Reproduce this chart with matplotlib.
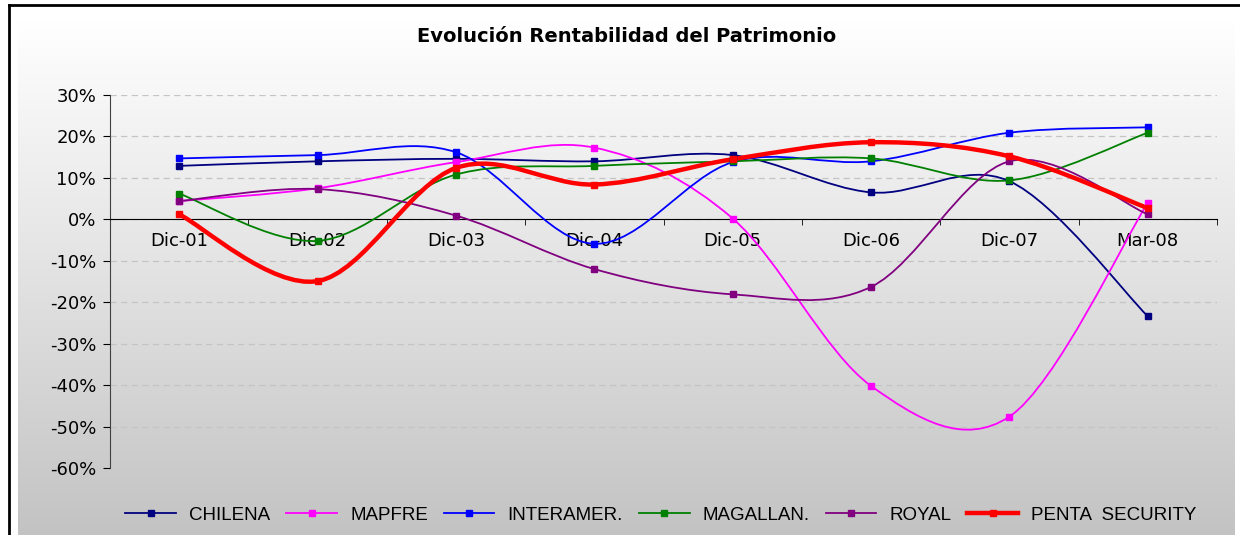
import numpy as np
import matplotlib
matplotlib.use("Agg")
from matplotlib import pyplot as plt
from matplotlib.path import Path
from matplotlib.patches import PathPatch
from matplotlib.lines import Line2D
from matplotlib.ticker import FixedLocator, PercentFormatter

# datos (rentabilidad del patrimonio, %)
categorias = ["Dic-01", "Dic-02", "Dic-03", "Dic-04", "Dic-05", "Dic-06", "Dic-07", "Mar-08"]
chilena = [12.9, 14.0, 14.6, 14.0, 15.5, 6.5, 9.2, -23.4]
mapfre = [4.4, 7.5, 13.8, 17.3, 0.2, -40.2, -47.6, 4.0]
interamer = [14.7, 15.5, 16.2, -5.9, 13.8, 14.0, 20.9, 22.2]
magallan = [6.2, -5.2, 10.8, 12.9, 14.0, 14.7, 9.4, 20.9]
royal = [4.4, 7.3, 0.9, -12.0, -18.1, -16.3, 14.0, 1.2]
penta = [1.2, -14.9, 12.4, 8.4, 14.5, 18.6, 15.2, 2.7]

series = [
    ("CHILENA", chilena, "#000080", 1.3),
    ("MAPFRE", mapfre, "#ff00ff", 1.3),
    ("INTERAMER.", interamer, "#0000ff", 1.3),
    ("MAGALLAN.", magallan, "#008000", 1.3),
    ("ROYAL", royal, "#800080", 1.3),
    ("PENTA  SECURITY", penta, "#ff0000", 3.2),
]

plt.rcParams['font.family'] = ['DejaVu Sans']
plt.rcParams['axes.unicode_minus'] = False


def smooth_path(x, y):
    # curva suavizada tipo Excel (Bezier con puntos de control Catmull-Rom)
    pts = np.column_stack([np.asarray(x, float), np.asarray(y, float)])
    verts = [pts[0]]
    codes = [Path.MOVETO]
    n = len(pts)
    for i in range(n - 1):
        p0 = pts[i - 1] if i > 0 else pts[i]
        p1 = pts[i]
        p2 = pts[i + 1]
        p3 = pts[i + 2] if i + 2 < n else pts[i + 1]
        verts += [p1 + (p2 - p0) / 6.0, p2 - (p3 - p1) / 6.0, p2]
        codes += [Path.CURVE4] * 3
    return Path(verts, codes)


fig = plt.figure(figsize=(12.4, 5.35), dpi=100)
W, H = 1240, 535

# fondo degradado
bg = fig.add_axes([18 / W, 0, (1235 - 18) / W, (535 - 20) / H])
grad = np.linspace(1.0, 0.0, 256).reshape(-1, 1)
bg.imshow(grad, aspect="auto", cmap=matplotlib.colors.LinearSegmentedColormap.from_list(
    "g", ["#c3c3c3", "#e2e2e2", "#ffffff"]), extent=[0, 1, 0, 1], origin="upper")
bg.set_axis_off()

# marco
fig.add_artist(Line2D([9 / W, 9 / W], [0, 1 - 5 / H], color="black", lw=2, transform=fig.transFigure))
fig.add_artist(Line2D([9 / W, 1], [1 - 5 / H, 1 - 5 / H], color="black", lw=2, transform=fig.transFigure))

ax = fig.add_axes([110 / W, 1 - 468 / H, (1217 - 110) / W, (468 - 95) / H])
ax.patch.set_alpha(0)

x = np.arange(len(categorias))
for nombre, vals, col, lw in series:
    ax.add_patch(PathPatch(smooth_path(x, vals), facecolor="none", edgecolor=col, lw=lw, zorder=3))
    ax.plot(x, vals, ls="none", marker="s", ms=5, color=col, zorder=4)

ax.set_xlim(-0.5, len(categorias) - 0.5)
ax.set_ylim(-60, 30)
ax.yaxis.set_major_locator(FixedLocator(np.arange(-60, 31, 10)))
ax.yaxis.set_major_formatter(PercentFormatter(decimals=0))
ax.grid(axis="y", color="#c4c4c4", ls=(0, (5, 3.5)), lw=0.9)
ax.set_axisbelow(True)

ax.spines["top"].set_visible(False)
ax.spines["right"].set_visible(False)
ax.spines["left"].set_color("#404040")
ax.spines["bottom"].set_position(("data", 0))
ax.spines["bottom"].set_color("black")

ax.set_xticks(x)
ax.set_xticklabels(categorias)
ax.set_xticks(np.arange(-0.5, len(categorias), 1), minor=True)
ax.tick_params(axis="x", which="major", length=0, pad=9, labelsize=13)
ax.tick_params(axis="x", which="minor", length=4, direction="out", color="black")
ax.tick_params(axis="y", length=5, direction="out", color="black", labelsize=13, pad=5)

fig.text(627 / W, 1 - 37 / H, "Evolución Rentabilidad del Patrimonio", ha="center", va="center",
         fontsize=14, fontweight="bold")

handles = [Line2D([], [], color=col, lw=lw, marker="s", ms=5) for _, _, col, lw in series]
labels = [s[0] for s in series]
fig.legend(handles, labels, loc="center", bbox_to_anchor=(661 / W, 1 - 515 / H), ncol=6,
           frameon=False, handlelength=2.7, columnspacing=0.85, handletextpad=0.7,
           prop={"family": "Liberation Sans", "size": 13.5})

fig.savefig("out.png", dpi=100)
